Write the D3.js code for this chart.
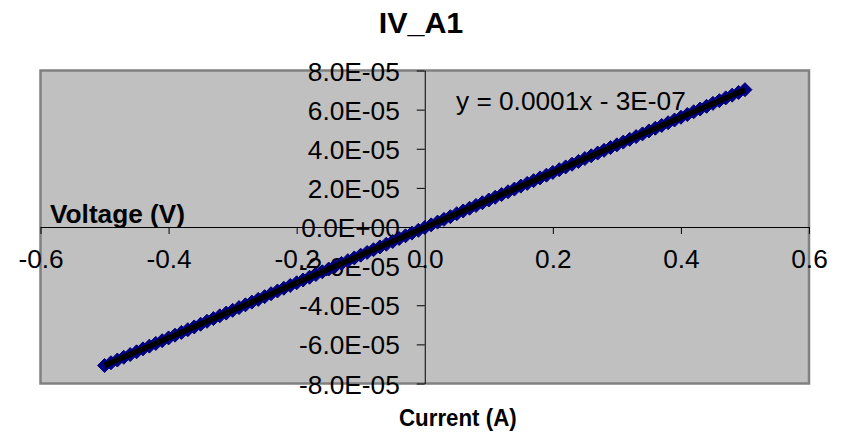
<!DOCTYPE html>
<html>
<head>
<meta charset="utf-8">
<script src="https://cdn.jsdelivr.net/npm/d3@7"></script>
<style>
  body { margin: 0; background: #fff; }
  text { font-family: "Liberation Sans", Arial, sans-serif; fill: #000; }
</style>
</head>
<body>
<div id="viz"></div>
<script>
// measured current (A)
var current = [
  -0.50, -0.49, -0.48, -0.47, -0.46, -0.45, -0.44, -0.43, -0.42, -0.41,
  -0.40, -0.39, -0.38, -0.37, -0.36, -0.35, -0.34, -0.33, -0.32, -0.31,
  -0.30, -0.29, -0.28, -0.27, -0.26, -0.25, -0.24, -0.23, -0.22, -0.21,
  -0.20, -0.19, -0.18, -0.17, -0.16, -0.15, -0.14, -0.13, -0.12, -0.11,
  -0.10, -0.09, -0.08, -0.07, -0.06, -0.05, -0.04, -0.03, -0.02, -0.01,
   0.00,  0.01,  0.02,  0.03,  0.04,  0.05,  0.06,  0.07,  0.08,  0.09,
   0.10,  0.11,  0.12,  0.13,  0.14,  0.15,  0.16,  0.17,  0.18,  0.19,
   0.20,  0.21,  0.22,  0.23,  0.24,  0.25,  0.26,  0.27,  0.28,  0.29,
   0.30,  0.31,  0.32,  0.33,  0.34,  0.35,  0.36,  0.37,  0.38,  0.39,
   0.40,  0.41,  0.42,  0.43,  0.44,  0.45,  0.46,  0.47,  0.48,  0.49,
   0.50
];

// measured voltage (V)
var voltage = [
  -7.08e-5, -6.94e-5, -6.80e-5, -6.66e-5, -6.52e-5, -6.38e-5, -6.23e-5, -6.09e-5, -5.95e-5, -5.81e-5,
  -5.67e-5, -5.53e-5, -5.39e-5, -5.25e-5, -5.11e-5, -4.97e-5, -4.82e-5, -4.68e-5, -4.54e-5, -4.40e-5,
  -4.26e-5, -4.12e-5, -3.98e-5, -3.84e-5, -3.70e-5, -3.56e-5, -3.41e-5, -3.27e-5, -3.13e-5, -2.99e-5,
  -2.85e-5, -2.71e-5, -2.57e-5, -2.43e-5, -2.29e-5, -2.15e-5, -2.00e-5, -1.86e-5, -1.72e-5, -1.58e-5,
  -1.44e-5, -1.30e-5, -1.16e-5, -1.02e-5, -0.88e-5, -0.74e-5, -0.59e-5, -0.45e-5, -0.31e-5, -0.17e-5,
  -0.03e-5,  0.11e-5,  0.25e-5,  0.39e-5,  0.53e-5,  0.68e-5,  0.82e-5,  0.96e-5,  1.10e-5,  1.24e-5,
   1.38e-5,  1.52e-5,  1.66e-5,  1.80e-5,  1.94e-5,  2.09e-5,  2.23e-5,  2.37e-5,  2.51e-5,  2.65e-5,
   2.79e-5,  2.93e-5,  3.07e-5,  3.21e-5,  3.35e-5,  3.50e-5,  3.64e-5,  3.78e-5,  3.92e-5,  4.06e-5,
   4.20e-5,  4.34e-5,  4.48e-5,  4.62e-5,  4.76e-5,  4.91e-5,  5.05e-5,  5.19e-5,  5.33e-5,  5.47e-5,
   5.61e-5,  5.75e-5,  5.89e-5,  6.03e-5,  6.17e-5,  6.32e-5,  6.46e-5,  6.60e-5,  6.74e-5,  6.88e-5,
   7.02e-5
];

var xTicks = [-0.6, -0.4, -0.2, 0, 0.2, 0.4, 0.6];
var xTickLabels = ["-0.6", "-0.4", "-0.2", "0.0", "0.2", "0.4", "0.6"];
var yTicks = [8e-5, 6e-5, 4e-5, 2e-5, 0, -2e-5, -4e-5, -6e-5, -8e-5];
var yTickLabels = ["8.0E-05", "6.0E-05", "4.0E-05", "2.0E-05", "0.0E+00",
                   "-2.0E-05", "-4.0E-05", "-6.0E-05", "-8.0E-05"];

var chartTitle = "IV_A1";
var xTitle = "Current (A)";
var yTitle = "Voltage (V)";
var equation = "y = 0.0001x - 3E-07";

var w = 842, h = 432;
var stretch = 1.05; // text in the picture is a little wider than Arial

var x = d3.scaleLinear().domain([-0.6, 0.6]).range([40.5, 809]);
var y = d3.scaleLinear().domain([-8e-5, 8e-5]).range([383.5, 70.5]);

var svg = d3.select("#viz").append("svg")
  .attr("width", w)
  .attr("height", h);

function label(g, txt, px, py, size, weight, anchor, sx) {
  return g.append("text")
    .attr("transform", "translate(" + px + "," + py + ") scale(" + (sx || stretch) + ",1)")
    .attr("text-anchor", anchor || "start")
    .style("font-size", size + "px")
    .style("font-weight", weight || "normal")
    .text(txt);
}

// plot area
svg.append("rect")
  .attr("x", x(-0.6))
  .attr("y", y(8e-5))
  .attr("width", x(0.6) - x(-0.6))
  .attr("height", y(-8e-5) - y(8e-5))
  .attr("fill", "#c0c0c0")
  .attr("stroke", "#808080")
  .attr("stroke-width", 2.5);

// x axis through y = 0
var xAxis = svg.append("g")
  .attr("transform", "translate(0," + y(0) + ")")
  .call(d3.axisBottom(x).tickValues(xTicks).tickSize(7).tickSizeOuter(0)
    .tickFormat(function(d, i) { return xTickLabels[i]; }));
xAxis.selectAll("text")
  .attr("y", null).attr("dy", null)
  .attr("transform", "translate(0,41) scale(" + stretch + ",1)")
  .style("font-size", "25px").style("font-family", null);

// y axis through x = 0
var yAxis = svg.append("g")
  .attr("transform", "translate(" + x(0) + ",0)")
  .call(d3.axisLeft(y).tickValues(yTicks).tickSize(8).tickSizeOuter(0)
    .tickFormat(function(d, i) { return yTickLabels[i]; }));
yAxis.selectAll("text")
  .attr("x", null).attr("dy", null)
  .attr("transform", "translate(-25,9.5) scale(" + stretch + ",1)")
  .style("font-size", "25px").style("font-family", null);

svg.selectAll(".domain, .tick line").attr("stroke", "#000").attr("stroke-width", 1);

// data markers
var pts = current.map(function(c, i) { return {c: c, v: voltage[i]}; });
var r = 7;
svg.append("g").selectAll("path")
  .data(pts)
  .enter().append("path")
  .attr("d", function(d) {
    var px = x(d.c), py = y(d.v);
    return "M" + px + "," + (py - r) + "L" + (px + r) + "," + py +
           "L" + px + "," + (py + r) + "L" + (px - r) + "," + py + "Z";
  })
  .attr("fill", "#000080")
  .attr("stroke", "#000080")
  .attr("stroke-width", 1);

// linear trendline
var mx = d3.mean(current), my = d3.mean(voltage);
var sxy = d3.sum(pts, function(d) { return (d.c - mx) * (d.v - my); });
var sxx = d3.sum(pts, function(d) { return (d.c - mx) * (d.c - mx); });
var slope = sxy / sxx, icpt = my - slope * mx;
var xs = d3.extent(current);
svg.append("line")
  .attr("x1", x(xs[0])).attr("y1", y(slope * xs[0] + icpt))
  .attr("x2", x(xs[1])).attr("y2", y(slope * xs[1] + icpt))
  .attr("stroke", "#000")
  .attr("stroke-width", 5.5);

// titles
label(svg, chartTitle, 421, 33, 29, "bold", "middle");
label(svg, xTitle, 399, 426, 24, "bold", "start", 0.93);
label(svg, yTitle, 50, 223, 25, "bold", "start");
label(svg, equation, 456, 110, 25, "normal", "start");
</script>
</body>
</html>
